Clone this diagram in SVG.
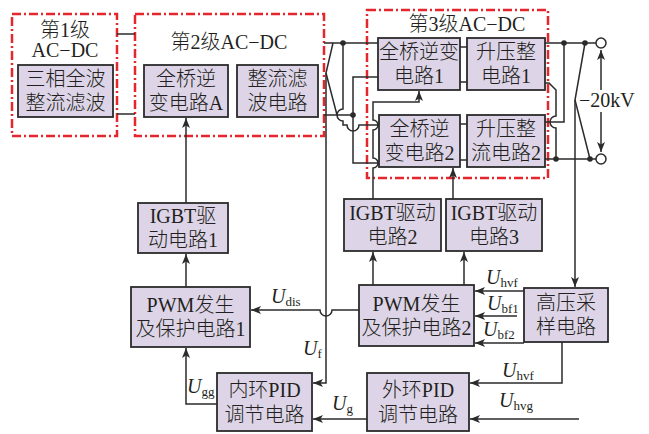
<svg xmlns="http://www.w3.org/2000/svg" width="649" height="434" viewBox="0 0 649 434">
<style>
.bg{fill:#ffffff}
.grp{fill:none;stroke:#e5262c;stroke-width:2.5;stroke-dasharray:9 3 2 3}
.box{fill:#ddd5e7;stroke:#2b2b2b;stroke-width:1.8}
.t{font-family:"Liberation Serif","Noto Sans CJK SC",serif;font-size:20px;font-weight:300;fill:#231f20;text-anchor:middle}
.l{font-family:"Liberation Serif","Noto Sans CJK SC",serif;font-size:20px;fill:#231f20}
.it{font-style:italic}
.sub{font-size:13px}
.w{fill:none;stroke:#2b2b2b;stroke-width:1.5}
.a{marker-end:url(#ah)}
.dot{fill:#2b2b2b}
.term{fill:#ffffff;stroke:#2b2b2b;stroke-width:1.5}
</style>
<defs>
<marker id="ah" markerWidth="11" markerHeight="8" refX="10" refY="4" orient="auto" markerUnits="userSpaceOnUse"><path d="M0,0 L10,4 L0,8 L2.5,4 z" fill="#2b2b2b"/></marker>
</defs>
<rect class="bg" width="649" height="434"/>

<g id="stage1">
<rect class="grp" x="12" y="14" width="105" height="122"/>
<text class="t" x="65" y="37">第1级</text>
<text class="t" x="65" y="57">AC−DC</text>
</g>
<g id="stage2">
<rect class="grp" x="135" y="14" width="189" height="122"/>
<text class="t" x="229" y="49">第2级AC−DC</text>
</g>
<g id="stage3">
<rect class="grp" x="367" y="10" width="181" height="168"/>
<text class="t" x="467" y="31">第3级AC−DC</text>
</g>

<g id="connectors">
<path class="w" d="M117,34 H135 M117,114 H135"/>
<path class="w" d="M324,43 H378 M324,115 H353"/>
<path class="w" d="M378,77 H353 V163 H379"/>
<path class="w" d="M343,43 V109 A6,6 0 0 0 343,121 V125 H347 A6,6 0 0 0 359,125 H379"/>
<path class="w" d="M333,43 L326,73 L337,115"/>
<path class="w a" d="M326,73 V383 H313"/>
<path class="w a" d="M373,199 V168 A5,5 0 0 0 373,158 V130 A5,5 0 0 0 373,120 V102 H419 V91"/>
<path class="w a" d="M453,199 V168"/>
<path class="w" d="M460,47 H467 M460,82 H467 M460,124 H467 M460,160 H467"/>
<path class="w" d="M545,43 H596 M564,43 V122 H545 M545,159 H596"/>
<path class="w" d="M545,83 H549 L556,90 V116 A6,6 0 0 0 556,128 V159"/>
<path class="w" d="M585,43 L575,100 L590,159"/>
<path class="w a" d="M575,100 V287"/>
<path class="w a" d="M601,90 V50"/>
<path class="w a" d="M601,112 V152"/>
<circle class="dot" cx="343" cy="43" r="2.8"/>
<circle class="dot" cx="353" cy="115" r="2.8"/>
<circle class="dot" cx="564" cy="43" r="2.8"/>
<circle class="dot" cx="585" cy="43" r="2.8"/>
<circle class="dot" cx="556" cy="159" r="2.8"/>
<circle class="dot" cx="590" cy="159" r="2.8"/>
<circle class="term" cx="601" cy="43" r="5"/>
<circle class="term" cx="601" cy="159" r="5"/>
<path class="w a" d="M186,203 V118"/>
<path class="w a" d="M186,287 V254"/>
<path class="w a" d="M217,404 H186 V348"/>
<path class="w a" d="M359,310 H332 A6,6 0 0 1 320,310 H251"/>
<path class="w a" d="M373,285 V252"/>
<path class="w a" d="M464,285 V252"/>
<path class="w a" d="M524,291 H475"/>
<path class="w a" d="M517,316 H475"/>
<path class="w a" d="M524,343 H475"/>
<path class="w a" d="M562,342 V383 H470"/>
<path class="w a" d="M579,419 H470"/>
<path class="w a" d="M367,419 H313"/>
</g>

<g id="n1"><rect class="box" x="18" y="65" width="95" height="52"/><text class="t" x="65.5" y="86">三相全波</text><text class="t" x="65.5" y="110">整流滤波</text></g>
<g id="n2"><rect class="box" x="144" y="65" width="84" height="52"/><text class="t" x="186" y="86">全桥逆</text><text class="t" x="186" y="110">变电路A</text></g>
<g id="n3"><rect class="box" x="237" y="65" width="81" height="52"/><text class="t" x="277.5" y="86">整流滤</text><text class="t" x="277.5" y="110">波电路</text></g>
<g id="n4"><rect class="box" x="378" y="38" width="82" height="52"/><text class="t" x="419" y="59">全桥逆变</text><text class="t" x="419" y="83">电路1</text></g>
<g id="n5"><rect class="box" x="467" y="38" width="78" height="52"/><text class="t" x="506" y="59">升压整</text><text class="t" x="506" y="83">电路1</text></g>
<g id="n6"><rect class="box" x="379" y="115" width="81" height="52"/><text class="t" x="419.5" y="136">全桥逆</text><text class="t" x="419.5" y="160">变电路2</text></g>
<g id="n7"><rect class="box" x="467" y="115" width="78" height="52"/><text class="t" x="506" y="136">升压整</text><text class="t" x="506" y="160">流电路2</text></g>
<g id="n8"><rect class="box" x="138" y="203" width="90" height="50"/><text class="t" x="183" y="223">IGBT驱</text><text class="t" x="183" y="247">动电路1</text></g>
<g id="n9"><rect class="box" x="131" y="287" width="119" height="60"/><text class="t" x="190.5" y="312">PWM发生</text><text class="t" x="190.5" y="336">及保护电路1</text></g>
<g id="n10"><rect class="box" x="217" y="373" width="95" height="58"/><text class="t" x="264.5" y="397">内环PID</text><text class="t" x="264.5" y="422">调节电路</text></g>
<g id="n11"><rect class="box" x="344" y="199" width="97" height="52"/><text class="t" x="392.5" y="220">IGBT驱动</text><text class="t" x="392.5" y="244">电路2</text></g>
<g id="n12"><rect class="box" x="446" y="199" width="96" height="52"/><text class="t" x="494" y="220">IGBT驱动</text><text class="t" x="494" y="244">电路3</text></g>
<g id="n13"><rect class="box" x="359" y="285" width="115" height="61"/><text class="t" x="416.5" y="311">PWM发生</text><text class="t" x="416.5" y="335">及保护电路2</text></g>
<g id="n14"><rect class="box" x="524" y="288" width="84" height="54"/><text class="t" x="566" y="310">高压采</text><text class="t" x="566" y="334">样电路</text></g>
<g id="n15"><rect class="box" x="367" y="373" width="102" height="58"/><text class="t" x="418" y="397">外环PID</text><text class="t" x="418" y="422">调节电路</text></g>

<g id="labels">
<text class="l" x="579" y="107">−20kV</text>
<text class="l" x="271" y="303"><tspan class="it">U</tspan><tspan class="sub" dy="3">dis</tspan></text>
<text class="l" x="303" y="355"><tspan class="it">U</tspan><tspan class="sub" dy="3">f</tspan></text>
<text class="l" x="187" y="393"><tspan class="it">U</tspan><tspan class="sub" dy="3">gg</tspan></text>
<text class="l" x="332" y="410"><tspan class="it">U</tspan><tspan class="sub" dy="3">g</tspan></text>
<text class="l" x="486" y="284"><tspan class="it">U</tspan><tspan class="sub" dy="3">hvf</tspan></text>
<text class="l" x="487" y="310"><tspan class="it">U</tspan><tspan class="sub" dy="3">bf1</tspan></text>
<text class="l" x="483" y="336"><tspan class="it">U</tspan><tspan class="sub" dy="3">bf2</tspan></text>
<text class="l" x="502" y="377"><tspan class="it">U</tspan><tspan class="sub" dy="3">hvf</tspan></text>
<text class="l" x="499" y="407"><tspan class="it">U</tspan><tspan class="sub" dy="3">hvg</tspan></text>
</g>
</svg>
